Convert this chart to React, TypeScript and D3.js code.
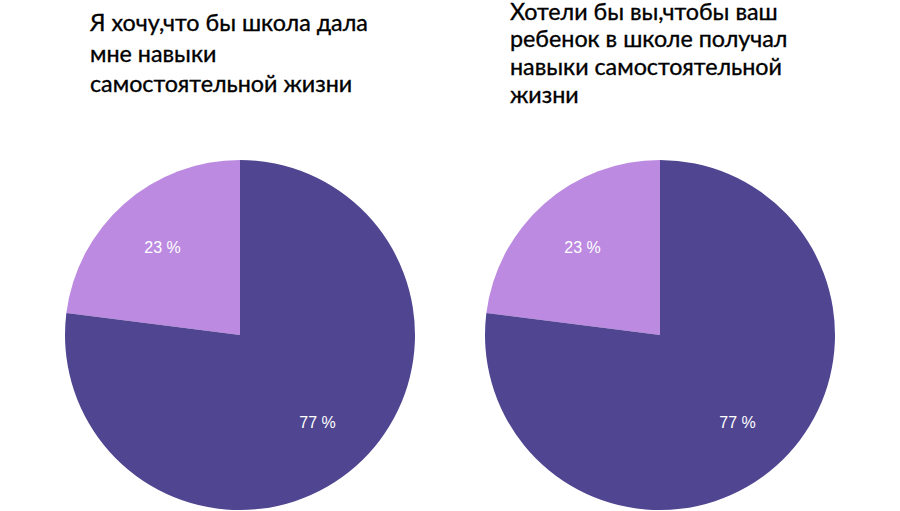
import React, { useEffect, useRef } from "react";
import * as d3 from "d3";

const categories = ["Нет", "Да"];
const leftValues = [23, 77];
const rightValues = [23, 77];
const leftTitle = ["Я хочу,что бы школа дала", "мне навыки", "самостоятельной жизни"];
const rightTitle = ["Хотели бы вы,чтобы ваш", "ребенок в школе получал", "навыки самостоятельной", "жизни"];
const colors = ["#BC8AE0", "#4F4590"];

const W = 900;
const H = 511;

export default function App() {
  const ref = useRef<SVGSVGElement>(null);
  useEffect(() => {
    const svg = d3.select(ref.current);
    svg.selectAll("*").remove();
    const r = 175;
    const panels = [
      { cx: 240, cy: 335, values: leftValues, title: leftTitle, tx: 90, ty: 31, lh: 30.5 },
      { cx: 660, cy: 335, values: rightValues, title: rightTitle, tx: 510, ty: 19.5, lh: 27.8 },
    ];
    const pie = d3.pie<number>().sort(null).value((d) => d);
    const arc = d3.arc<d3.PieArcDatum<number>>().innerRadius(0).outerRadius(r);
    const labelArc = d3.arc<d3.PieArcDatum<number>>().innerRadius(r * 0.67).outerRadius(r * 0.67);
    panels.forEach((p) => {
      const total = d3.sum(p.values);
      const startAngle = -(p.values[0] / total) * Math.PI * 2;
      const arcs = pie.startAngle(startAngle).endAngle(startAngle + Math.PI * 2)(p.values);
      const g = svg.append("g").attr("transform", `translate(${p.cx},${p.cy})`);
      g.selectAll("path")
        .data(arcs)
        .join("path")
        .attr("d", arc)
        .attr("fill", (_d, i) => colors[i]);
      g.selectAll("text")
        .data(arcs)
        .join("text")
        .attr("transform", (d) => `translate(${labelArc.centroid(d)})`)
        .attr("text-anchor", "middle")
        .attr("dominant-baseline", "central")
        .attr("fill", "#ffffff")
        .style("font-family", "'Liberation Sans', Arial, sans-serif")
        .style("font-size", "16px")
        .text((d) => `${d.data} %`);
      const t = svg
        .append("text")
        .attr("x", p.tx)
        .attr("y", p.ty)
        .attr("fill", "#000000")
        .attr("stroke", "#000000")
        .attr("stroke-width", 0.35)
        .style("font-family", "Lato, 'Open Sans', sans-serif")
        .style("font-size", "23.3px");
      p.title.forEach((line, i) => {
        t.append("tspan").attr("x", p.tx).attr("y", p.ty + i * p.lh).text(line);
      });
    });
  }, []);
  return (
    <svg ref={ref} width={W} height={H} style={{ display: "block", position: "absolute", left: 0, top: 0 }} />
  );
}
